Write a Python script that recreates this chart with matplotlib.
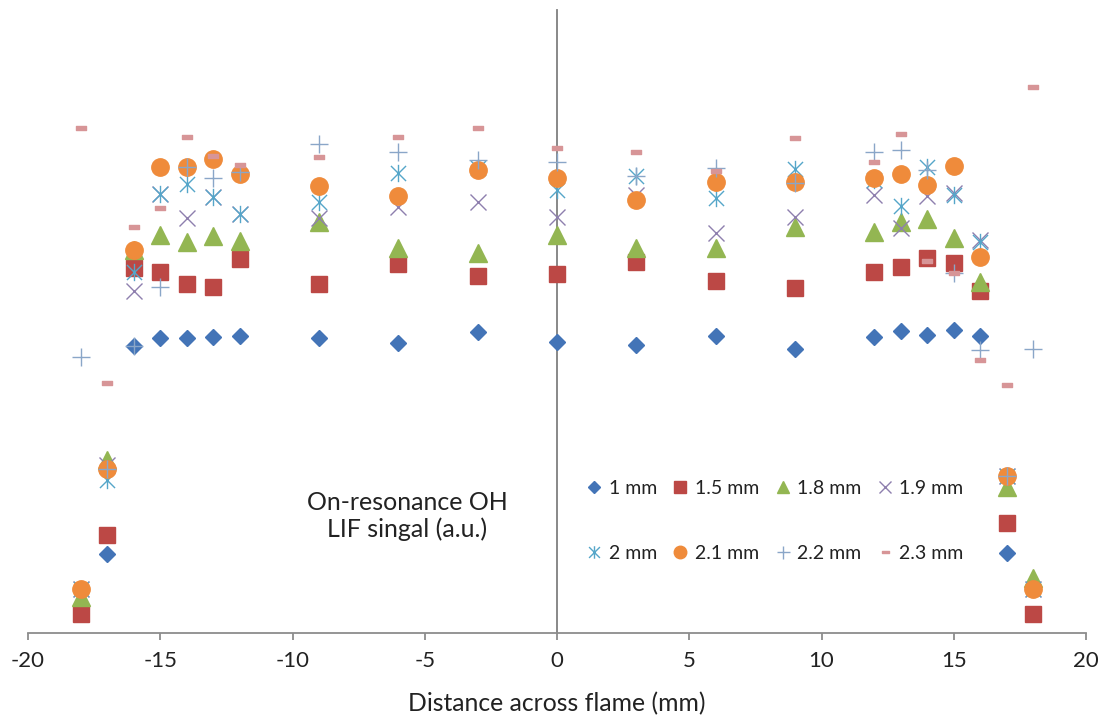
import matplotlib
matplotlib.use("Agg")
import matplotlib.pyplot as plt
from matplotlib.path import Path
import numpy as np

plt.rcParams['font.family'] = ['Lato', 'DejaVu Sans']

# ---- data (signal in arbitrary units) ----
x_all = [-18, -17, -16, -15, -14, -13, -12, -9, -6, -3, 0, 3, 6, 9, 12, 13, 14, 15, 16, 17, 18]

x_1mm = [-17, -16, -15, -14, -13, -12, -9, -6, -3, 0, 3, 6, 9, 12, 13, 14, 15, 16, 17]
y_1mm = [79, 287, 295, 295, 296, 297, 295, 290, 301, 291, 288, 297, 284, 296, 302, 298, 303, 297, 80]

y_15mm = [19, 98, 365, 361, 349, 346, 374, 349, 369, 357, 359, 371, 352, 345, 361, 366, 375, 370, 342, 110, 19]
y_18mm = [36, 173, 383, 398, 391, 397, 392, 411, 385, 380, 398, 385, 385, 406, 401, 411, 414, 395, 351, 146, 55]
y_19mm = [44, 168, 342, 439, 415, 436, 419, 415, 426, 431, 416, 438, 400, 416, 438, 405, 437, 440, 393, 157, 44]
y_2mm = [44, 153, 361, 439, 449, 436, 419, 431, 460, 465, 443, 457, 435, 464, 453, 427, 466, 438, 391, 157, 44]
y_21mm = [44, 164, 383, 466, 466, 474, 459, 447, 437, 463, 455, 433, 451, 451, 455, 459, 448, 467, 376, 157, 44]
y_22mm = [276, 164, 287, 346, 466, 455, 461, 489, 481, 473, 471, 457, 465, 450, 481, 483, 463, 360, 283, 157, 284]
y_23mm = [505, 250, 406, 425, 496, 477, 468, 476, 496, 505, 485, 481, 462, 495, 471, 499, 372, 360, 273, 248, 546]

labels = ['1 mm', '1.5 mm', '1.8 mm', '1.9 mm', '2 mm', '2.1 mm', '2.2 mm', '2.3 mm']
xticks = [-20, -15, -10, -5, 0, 5, 10, 15, 20]

# ---- custom markers ----
asterisk = Path([(-1, -1), (1, 1), (-1, 1), (1, -1), (0, -1.15), (0, 1.15)],
                [Path.MOVETO, Path.LINETO, Path.MOVETO, Path.LINETO, Path.MOVETO, Path.LINETO])
dash = Path([(-1, -0.42), (1, -0.42), (1, 0.42), (-1, 0.42), (-1, -0.42)],
            [Path.MOVETO, Path.LINETO, Path.LINETO, Path.LINETO, Path.CLOSEPOLY])

W, H = 1110, 719
fig = plt.figure(figsize=(W / 100, H / 100), dpi=100)
ax = fig.add_axes([28 / W, 1 - 633 / H, (1086 - 28) / W, (633 - 10) / H])
ax.set_xlim(-20, 20)
ax.set_ylim(0, 623)

series = [
    (x_1mm, y_1mm, dict(marker='D', ms=8.6, color='#4374B7', mec='#4374B7', ls='none')),
    (x_all, y_15mm, dict(marker='s', ms=11.8, color='#BC4845', mec='#BC4845', ls='none')),
    (x_all, y_18mm, dict(marker='^', ms=12.5, color='#93B652', mec='#93B652', ls='none')),
    (x_all, y_19mm, dict(marker='x', ms=11.5, color='#8E7FAE', mew=1.0, ls='none')),
    (x_all, y_2mm, dict(marker=asterisk, ms=12.5, color='#55A6C9', mew=1.0, ls='none', fillstyle='none')),
    (x_all, y_21mm, dict(marker='o', ms=12.5, color='#EF8B3B', mec='#EF8B3B', ls='none')),
    (x_all, y_22mm, dict(marker='+', ms=13, color='#8AA6C8', mew=1.0, ls='none')),
    (x_all, y_23mm, dict(marker=dash, ms=7, color='#D79597', mec='#D79597', ls='none')),
]
handles = []
for (xs, ys, kw), lab in zip(series, labels):
    h, = ax.plot(xs, ys, label=lab, zorder=3, **kw)
    handles.append(h)

for s in ['top', 'right']:
    ax.spines[s].set_visible(False)
ax.spines['left'].set_position(('data', 0))
ax.spines['left'].set_color('#7F7F7F')
ax.spines['left'].set_linewidth(1.3)
ax.spines['bottom'].set_color('#8C8C8C')
ax.spines['bottom'].set_linewidth(1.3)
ax.tick_params(axis='y', left=False, labelleft=False)
ax.set_xticks(xticks)
ax.set_xticklabels([str(t) for t in xticks])
ax.tick_params(axis='x', direction='out', length=5, width=1.3, color='#8C8C8C',
               labelsize=16, pad=8, labelcolor='#222222')
ax.set_xlabel('Distance across flame (mm)', fontsize=17.8, color='#222222', labelpad=15)

# legend filled row by row (matplotlib fills columns first)
order = [0, 4, 1, 5, 2, 6, 3, 7]
leg = ax.legend(handles=[handles[i] for i in order], labels=[labels[i] for i in order],
                ncol=4, frameon=False, fontsize=14,
                loc='center', bbox_to_anchor=(775 / W, 1 - 521 / H),
                bbox_transform=fig.transFigure, markerscale=0.72,
                handlelength=0.8, handletextpad=0.35, columnspacing=0.8,
                labelspacing=2.45)
for t in leg.get_texts():
    t.set_color('#222222')

fig.text(407 / W, 1 - 516 / H, 'On-resonance OH\nLIF singal (a.u.)',
         fontsize=18, ha='center', va='center', color='#222222', linespacing=1.2)

fig.savefig('out.png', dpi=100)
